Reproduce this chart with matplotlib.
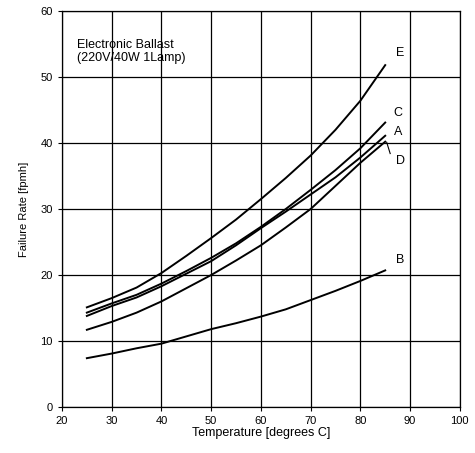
import matplotlib.pyplot as plt
import numpy as np

plt.rcParams['font.family'] = ['Liberation Sans', 'DejaVu Sans']

# temperatures [degrees C]
temps = [25, 30, 35, 40, 45, 50, 55, 60, 65, 70, 75, 80, 85]

# failure rate curves [fpmh]
rate_E = [15.1, 16.5, 18.1, 20.3, 22.9, 25.6, 28.4, 31.5, 34.7, 38.1, 42.0, 46.4, 51.8]
rate_C = [14.3, 15.7, 17.0, 18.7, 20.6, 22.6, 24.8, 27.3, 30.0, 32.9, 35.9, 39.2, 43.1]
rate_A = [13.8, 15.3, 16.6, 18.3, 20.2, 22.1, 24.5, 27.1, 29.6, 32.2, 34.8, 37.8, 41.1]
rate_D = [11.7, 12.9, 14.3, 16.0, 18.0, 20.0, 22.2, 24.5, 27.2, 30.0, 33.5, 37.0, 40.2]
rate_B = [7.4, 8.1, 8.9, 9.6, 10.7, 11.8, 12.7, 13.7, 14.8, 16.2, 17.6, 19.1, 20.7]

curves = {'E': rate_E, 'C': rate_C, 'A': rate_A, 'D': rate_D, 'B': rate_B}

fig = plt.figure(figsize=(4.75, 4.53), dpi=100)
ax = fig.add_axes([0.1305, 0.1015, 0.8375, 0.8742])

for name, vals in curves.items():
    ax.plot(temps, vals, color='black', linewidth=1.4)

# curve labels
ax.text(87.9, 53.6, 'E', fontsize=9, ha='center', va='center')
ax.text(87.6, 44.6, 'C', fontsize=9, ha='center', va='center')
ax.text(87.6, 41.6, 'A', fontsize=9, ha='center', va='center')
ax.text(88.0, 37.2, 'D', fontsize=9, ha='center', va='center')
ax.text(88.0, 22.3, 'B', fontsize=9, ha='center', va='center')
ax.plot([85.3, 86.0], [40.1, 38.4], color='black', linewidth=0.8)

ax.text(23.1, 55.8, 'Electronic Ballast\n(220V/40W 1Lamp)', fontsize=9,
        ha='left', va='top', linespacing=1.1)

ax.set_xlim(20, 100)
ax.set_ylim(0, 60)
ax.set_xticks(range(20, 101, 10))
ax.set_yticks(range(0, 61, 10))
ax.tick_params(labelsize=8, length=3, width=0.8, direction='out')
ax.grid(True, color='black', linewidth=0.9)
for s in ax.spines.values():
    s.set_linewidth(0.9)

ax.set_xlabel('Temperature [degrees C]', fontsize=9, labelpad=1)
ax.set_ylabel('Failure Rate [fpmh]', fontsize=8, labelpad=8)

plt.savefig('out.png', dpi=100)
